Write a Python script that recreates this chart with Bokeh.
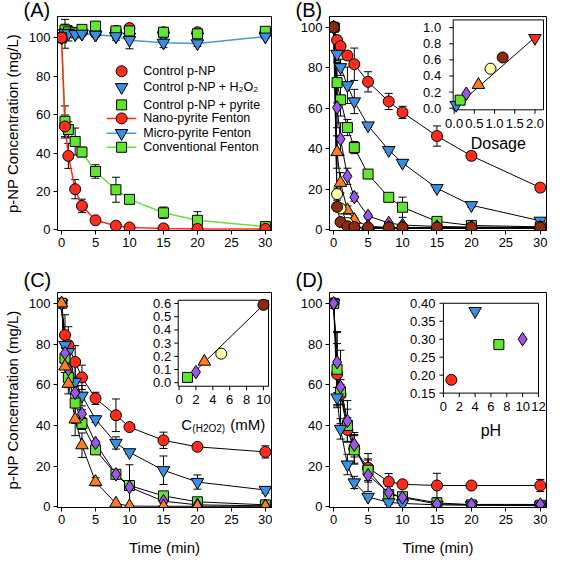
from bokeh.plotting import figure
from bokeh.layouts import column, row
from bokeh.models import (Range1d, ColumnDataSource, Whisker, TeeHead, FixedTicker)
from bokeh.embed import file_html
from bokeh.resources import INLINE
from bokeh.core.properties import value

# ---------------- data ----------------
time = [0, 0.5, 1, 2, 3, 5, 8, 10, 15, 20, 30]
x_ticks = [0, 5, 10, 15, 20, 25, 30]
y_ticks = [0, 20, 40, 60, 80, 100]

# Panel A
a_ctrl = [100, 103.7, 103.5, 102.5, 103, 102.5, 103.5, 105, 102.8, 102.8, 102.5]
a_ctrl_err = [0, 2, 2, 1, 1, 1, 1, 1, 1, 1, 1]
a_ctrl_h2o2 = [100, 102, 102.3, 101.8, 102, 101.5, 100.7, 100.5, 101, 100.5, 101]
a_ctrl_h2o2_err = [0, 7.5, 4, 1, 1, 1, 2, 1, 1, 1, 1]
a_ctrl_pyr = [100, 104, 103, 102.5, 104.3, 106, 103.5, 103.5, 102.8, 102, 103.3]
a_ctrl_pyr_err = [0, 3, 2, 1, 1, 1, 1, 1, 1, 1, 1]
a_nano = [100, 53.8, 38.5, 21.2, 12.5, 5, 2.2, 1.3, 0.8, 0.5, 0.5]
a_nano_err = [0, 6, 6.5, 5, 3.5, 1, 0.5, 0.5, 0.3, 0.3, 0.3]
a_micro = [100, 102.5, 102.3, 101.8, 102, 101.5, 100.7, 98.7, 97.3, 97, 100.5]
a_micro_err = [0, 1, 1, 1, 1, 1, 1, 4.5, 2.5, 1.5, 1]
a_conv = [100, 56.5, 52.2, 46, 40.5, 30.4, 20.9, 15.9, 8.9, 5, 1.7]
a_conv_err = [0, 8, 4, 7, 2.5, 3.5, 6.5, 2, 3, 4.5, 2]
a_labels = ["Control p-NP", "Control p-NP + H\u2082O\u2082", "Control p-NP + pyrite",
            "Nano-pyrite Fenton", "Micro-pyrite Fenton", "Conventional Fenton"]

# Panel B (dosage series)
b_s1 = [100, 93.6, 90.6, 86, 81.7, 73, 63.3, 57.9, 46.2, 36.4, 20.7]
b_s1_err = [0, 2, 2, 2, 8, 5, 4, 3, 5, 2, 2]
b_s2 = [100, 86.8, 80.2, 71.3, 63.3, 51.4, 39.2, 32.9, 20.4, 12, 4.3]
b_s2_err = [0, 3, 4, 9, 6, 1, 1, 1, 1, 1, 1]
b_s3 = [100, 72.6, 64.1, 50.4, 40.5, 27.4, 15.9, 11, 4, 2, 1.3]
b_s3_err = [0, 10, 8, 4, 3, 1, 1, 5, 1, 0.5, 0.5]
b_s4 = [100, 60.3, 44.7, 26.3, 16, 6.7, 3.2, 2.2, 1.5, 1.2, 1]
b_s4_err = [0, 10, 8, 4, 2, 1, 0.5, 0.5, 0.5, 0.5, 0.5]
b_s5 = [100, 38.3, 23.1, 9.6, 4.8, 1.6, 1, 0.8, 0.8, 0.8, 0.8]
b_s5_err = [0, 8, 5, 2, 1, 0.5, 0.5, 0.5, 0.5, 0.5, 0.5]
b_s6 = [100, 17.5, 10.4, 3.2, 0.8, 0.5, 0.5, 0.5, 0.5, 0.5, 0.5]
b_s6_err = [0, 3, 2, 1, 0.5, 0.3, 0.3, 0.3, 0.3, 0.3, 0.3]
b_s7 = [100, 11.2, 3.7, 1.6, 1.2, 1, 1, 1, 1, 1, 1]
b_s7_err = [0, 2, 1, 0.5, 0.3, 0.3, 0.3, 0.3, 0.3, 0.3, 0.3]
b_dosage = [0.05, 0.15, 0.3, 0.6, 0.9, 1.2, 2.0]
b_k = [0.04, 0.10, 0.18, 0.29, 0.49, 0.63, 0.87]
b_fit_x = [0.0, 2.0]
b_fit_y = [0.0, 0.88]
b_in_xticks = [0, 0.5, 1.0, 1.5, 2.0]
b_in_xlabels = ["0.0", "0.5", "1.0", "1.5", "2.0"]
b_in_yticks = [0, 0.2, 0.4, 0.6, 0.8, 1.0]
b_in_ylabels = ["0.0", "0.2", "0.4", "0.6", "0.8", "1.0"]

# Panel C (H2O2 series)
c_s1 = [100, 84.4, 79.5, 71.2, 63.6, 53.3, 45, 39.2, 32.7, 29.5, 27]
c_s1_err = [0, 10, 9, 8, 6, 3, 8, 1, 4, 1, 3]
c_s2 = [100, 79.5, 76, 61.4, 54.6, 43, 31.4, 26.8, 18, 12.2, 8.3]
c_s2_err = [0, 5, 5, 10, 5, 1.5, 3, 1, 7, 3.5, 1.5]
c_s3 = [100, 73, 63.6, 51, 41, 28, 16, 10.5, 5.4, 2.5, 1]
c_s3_err = [0, 5, 5, 10, 3, 1.5, 1, 1, 1, 0.5, 0.5]
c_s4 = [100, 75.5, 67.6, 56, 45.7, 31.4, 16, 9.7, 2.8, 1, 0.5]
c_s4_err = [0, 3, 3, 3, 2, 1, 1, 11, 1, 0.5, 0.3]
c_s5 = [100, 69, 60.5, 43, 30.3, 12.3, 1.7, 0.4, 0.3, 0.3, 0.3]
c_s5_err = [0, 3, 5, 8, 6, 2, 0.5, 0.3, 0.3, 0.3, 0.3]
c_conc = [1, 2, 3, 5, 10]
c_k = [0.04, 0.08, 0.16, 0.22, 0.59]
c_fit_x = [1.0, 10.0]
c_fit_y = [0.03, 0.59]
c_in_xticks = [0, 2, 4, 6, 8, 10]
c_in_xlabels = ["0", "2", "4", "6", "8", "10"]
c_in_yticks = [0, 0.1, 0.2, 0.3, 0.4, 0.5, 0.6]
c_in_ylabels = ["0.0", "0.1", "0.2", "0.3", "0.4", "0.5", "0.6"]

# Panel D (pH series)
d_s1 = [100, 65.2, 55.2, 37.8, 28.5, 19.2, 12.4, 11.1, 10.5, 10.5, 10.5]
d_s1_err = [0, 15, 5, 6, 7, 7, 4, 1, 6, 1, 3]
d_s2 = [100, 53.7, 38.3, 20.8, 12, 4.9, 2.2, 1.7, 1, 0.8, 0.6]
d_s2_err = [0, 5, 5, 5, 3, 1, 1, 1, 0.5, 0.5, 0.5]
d_s3 = [100, 67.6, 56.5, 40, 28, 18, 6, 5, 2, 1, 0.8]
d_s3_err = [0, 18, 6, 8, 7, 5, 2, 2, 2, 2, 1]
d_s4 = [100, 71.1, 58.9, 42.2, 30.5, 15.6, 7, 4.6, 1.4, 1.2, 1.2]
d_s4_err = [0, 15, 18, 10, 6, 8, 3, 2, 1, 1, 1]
d_ph = [1, 4, 7, 10]
d_k = [0.187, 0.378, 0.285, 0.30]
d_in_xticks = [0, 2, 4, 6, 8, 10, 12]
d_in_xlabels = ["0", "2", "4", "6", "8", "10", "12"]
d_in_yticks = [0.15, 0.20, 0.25, 0.30, 0.35, 0.40]
d_in_ylabels = ["0.15", "0.20", "0.25", "0.30", "0.35", "0.40"]

# ---------------- styles ----------------
FONT = "Liberation Sans"
RED = "#ff2b1c"
BLUE = "#3b8fe3"
GREEN = "#62e52e"
PURPLE = "#9b55e8"
ORANGE = "#ff7a22"
YELLOW = "#ffffa8"
BROWN = "#8c2a0c"
LINE_BLUE = "#4796e0"
LINE_GREEN = "#6ade35"
SIZES = {"circle": 11, "inverted_triangle": 12.5, "triangle": 12.5, "square": 10, "diamond": 13.5}


def make_panel(width, height, bl, br, bt, bb, y_start, y_end, letter, title_standoff,
               xlabel=None, ylabel=None):
    p = figure(width=width, height=height, output_backend="svg", toolbar_location=None,
               x_range=Range1d(-0.6, 30.9), y_range=Range1d(y_start, y_end),
               min_border_left=bl, min_border_right=br, min_border_top=bt, min_border_bottom=bb)
    p.title.text = letter
    p.title.align = "left"
    p.title.offset = -34
    p.title.standoff = title_standoff
    p.title.text_font = FONT
    p.title.text_font_size = "20px"
    p.title.text_font_style = "normal"
    p.title.text_color = "black"
    p.grid.visible = False
    p.outline_line_color = "black"
    p.outline_line_alpha = 1
    p.outline_line_width = 1
    p.background_fill_color = "white"
    p.border_fill_color = "white"
    p.xaxis.ticker = FixedTicker(ticks=x_ticks)
    p.yaxis.ticker = FixedTicker(ticks=y_ticks)
    for ax in [p.xaxis[0], p.yaxis[0]]:
        ax.major_tick_in = 0
        ax.major_tick_out = 4
        ax.minor_tick_line_color = None
        ax.axis_line_color = "black"
        ax.major_tick_line_color = "black"
        ax.major_label_text_font = FONT
        ax.major_label_text_font_size = "13px"
        ax.major_label_text_color = "black"
        ax.major_label_standoff = 3
        ax.axis_label_text_font = FONT
        ax.axis_label_text_font_size = "15px"
        ax.axis_label_text_font_style = "normal"
        ax.axis_label_text_color = "black"
    if xlabel:
        p.xaxis.axis_label = xlabel
        p.xaxis.axis_label_standoff = 12
    if ylabel:
        p.yaxis.axis_label = ylabel
        p.yaxis.axis_label_standoff = 5
    return p


def add_series(p, series):
    """series: list of (values, errors, marker, fill, line_color, line_width)"""
    srcs = []
    for vals, errs, marker, fill, lc, lw in series:
        src = ColumnDataSource(dict(x=time, y=vals,
                                    lo=[v - e for v, e in zip(vals, errs)],
                                    hi=[v + e for v, e in zip(vals, errs)]))
        srcs.append(src)
    for src, (vals, errs, marker, fill, lc, lw) in zip(srcs, series):
        if lc is not None:
            p.line("x", "y", source=src, line_color=lc, line_width=lw)
        p.add_layout(Whisker(base="x", upper="hi", lower="lo", source=src,
                             line_color="black", line_width=1,
                             upper_head=TeeHead(size=8, line_color="black", line_width=1),
                             lower_head=TeeHead(size=8, line_color="black", line_width=1)))
    for src, (vals, errs, marker, fill, lc, lw) in zip(srcs, series):
        p.scatter("x", "y", source=src, marker=marker, size=SIZES[marker],
                  fill_color=fill, line_color="black", line_width=1)


def add_inset(p, name, fw, fh, frac, box, xs, ys, markers, fills, xt, xtl, yt, ytl,
              fit=None, ylab_off=8):
    fx0, fx1, fy0, fy1 = frac
    bx0, bx1, by0, by1 = box
    spx = (bx1 - bx0) / (fx1 - fx0)
    spy = (by1 - by0) / (fy1 - fy0)
    xs0 = bx0 - fx0 * spx
    ys0 = by0 - fy0 * spy
    p.extra_x_ranges[name] = Range1d(xs0, xs0 + spx)
    p.extra_y_ranges[name] = Range1d(ys0, ys0 + spy)
    kw = dict(x_range_name=name, y_range_name=name)
    tx = 4 * spx / fw
    ty = 4 * spy / fh
    p.quad(left=[bx0], right=[bx1], bottom=[by0], top=[by1], fill_color="white",
           line_color="black", line_width=1, **kw)
    p.segment(x0=xt, y0=[by0] * len(xt), x1=xt, y1=[by0 - ty] * len(xt),
              line_color="black", line_width=1, **kw)
    p.segment(x0=[bx0] * len(yt), y0=yt, x1=[bx0 - tx] * len(yt), y1=yt,
              line_color="black", line_width=1, **kw)
    p.text(x=xt, y=[by0] * len(xt), text=xtl, text_font=value(FONT), text_font_size="13px",
           text_align="center", text_baseline="top", y_offset=9, text_color="black", **kw)
    p.text(x=[bx0] * len(yt), y=yt, text=ytl, text_font=value(FONT), text_font_size="13px",
           text_align="right", text_baseline="middle", x_offset=-ylab_off, text_color="black", **kw)
    if fit is not None:
        p.line(fit[0], fit[1], line_color="black", line_width=1, **kw)
    src = ColumnDataSource(dict(x=xs, y=ys, m=markers, c=fills,
                                s=[SIZES[m] for m in markers]))
    p.scatter("x", "y", source=src, marker="m", size="s", fill_color="c",
              line_color="black", line_width=1, **kw)
    return (bx0 + bx1) / 2, by0, kw


# ---------------- Panel A ----------------
A_W, A_H, A_BL, A_BR, A_BT, A_BB = 272, 258, 54, 1, 15, 28
pa = make_panel(A_W, A_H, A_BL, A_BR, A_BT, A_BB, -0.3, 111, "(A)", -8,
                ylabel="p-NP Concentration (mg/L)")
add_series(pa, [
    (a_ctrl, a_ctrl_err, "circle", RED, None, 1),
    (a_ctrl_h2o2, a_ctrl_h2o2_err, "inverted_triangle", BLUE, None, 1),
    (a_ctrl_pyr, a_ctrl_pyr_err, "square", GREEN, None, 1),
    (a_micro, a_micro_err, "inverted_triangle", BLUE, LINE_BLUE, 1.5),
    (a_conv, a_conv_err, "square", GREEN, LINE_GREEN, 1.5),
    (a_nano, a_nano_err, "circle", RED, RED, 1.5),
])

# legend drawn in frame pixel space (y measured down from the frame top)
fw_a = A_W - A_BL - A_BR
fh_a = A_H - A_BT - A_BB
pa.extra_x_ranges["lg"] = Range1d(0, fw_a)
pa.extra_y_ranges["lg"] = Range1d(fh_a, 0)
lg = dict(x_range_name="lg", y_range_name="lg")
leg_rows = [55, 71, 88.8, 102.4, 117.2, 131.4]
leg_markers = ["circle", "inverted_triangle", "square", "circle", "inverted_triangle", "square"]
leg_fills = [RED, BLUE, GREEN, RED, BLUE, GREEN]
leg_lines = [None, None, None, RED, LINE_BLUE, LINE_GREEN]
LEG_MX, LEG_X0, LEG_X1, LEG_TX = 65, 50, 80, 87
for yy, lc in zip(leg_rows, leg_lines):
    if lc is not None:
        pa.segment(x0=[LEG_X0], y0=[yy], x1=[LEG_X1], y1=[yy], line_color=lc, line_width=1.5, **lg)
leg_src = ColumnDataSource(dict(x=[LEG_MX] * len(leg_rows), y=leg_rows, m=leg_markers,
                                c=leg_fills, s=[SIZES[m] for m in leg_markers]))
pa.scatter("x", "y", source=leg_src, marker="m", size="s", fill_color="c",
           line_color="black", line_width=1, **lg)
pa.text(x=[LEG_TX] * len(leg_rows), y=leg_rows, text=a_labels, text_font=value(FONT),
        text_font_size="12.5px", text_align="left", text_baseline="middle",
        text_color="black", **lg)

# ---------------- Panel B ----------------
pb = make_panel(276, 258, 57, 2, 15, 28, -0.5, 105.3, "(B)", -8)
add_series(pb, [
    (b_s1, b_s1_err, "circle", RED, "black", 1),
    (b_s2, b_s2_err, "inverted_triangle", BLUE, "black", 1),
    (b_s3, b_s3_err, "square", GREEN, "black", 1),
    (b_s4, b_s4_err, "diamond", PURPLE, "black", 1),
    (b_s5, b_s5_err, "triangle", ORANGE, "black", 1),
    (b_s6, b_s6_err, "circle", YELLOW, "black", 1),
    (b_s7, b_s7_err, "circle", BROWN, "black", 1),
])
cx, cy, kw = add_inset(pb, "inB", 217, 215, (0.570, 0.986, 0.564, 0.984), (-0.024, 2.21, -0.02, 1.096),
                       b_dosage, b_k,
                       ["inverted_triangle", "square", "diamond", "triangle", "circle", "circle", "inverted_triangle"],
                       [BLUE, GREEN, PURPLE, ORANGE, YELLOW, BROWN, RED],
                       b_in_xticks, b_in_xlabels, b_in_yticks, b_in_ylabels,
                       fit=(b_fit_x, b_fit_y), ylab_off=12)
pb.text(x=[cx], y=[cy], text=["Dosage"], text_font=value(FONT), text_font_size="16px",
        text_align="center", text_baseline="alphabetic", y_offset=34, text_color="black", **kw)

# ---------------- Panel C ----------------
pc = make_panel(272, 303, 54, 1, 34, 54, -0.3, 105.3, "(C)", 4,
                xlabel="Time (min)", ylabel="p-NP Concentration (mg/L)")
add_series(pc, [
    (c_s1, c_s1_err, "circle", RED, "black", 1),
    (c_s2, c_s2_err, "inverted_triangle", BLUE, "black", 1),
    (c_s3, c_s3_err, "square", GREEN, "black", 1),
    (c_s4, c_s4_err, "diamond", PURPLE, "black", 1),
    (c_s5, c_s5_err, "triangle", ORANGE, "black", 1),
])
cx, cy, kw = add_inset(pc, "inC", 217, 215, (0.564, 0.986, 0.564, 0.964), (-0.1, 10.6, -0.027, 0.625),
                       c_conc, c_k,
                       ["square", "diamond", "triangle", "circle", "circle"],
                       [GREEN, PURPLE, ORANGE, YELLOW, BROWN],
                       c_in_xticks, c_in_xlabels, c_in_yticks, c_in_ylabels,
                       fit=(c_fit_x, c_fit_y), ylab_off=7)
pc.text(x=[cx], y=[cy], text=["C"], text_font=value(FONT), text_font_size="15px",
        text_align="left", text_baseline="alphabetic", x_offset=-42, y_offset=38, text_color="black", **kw)
pc.text(x=[cx], y=[cy], text=["(H2O2)"], text_font=value(FONT), text_font_size="10px",
        text_align="left", text_baseline="alphabetic", x_offset=-31, y_offset=42, text_color="black", **kw)
pc.text(x=[cx], y=[cy], text=["(mM)"], text_font=value(FONT), text_font_size="15px",
        text_align="left", text_baseline="alphabetic", x_offset=7, y_offset=38, text_color="black", **kw)

# ---------------- Panel D ----------------
pd_ = make_panel(276, 303, 57, 2, 34, 54, -0.3, 105.3, "(D)", 4, xlabel="Time (min)")
add_series(pd_, [
    (d_s1, d_s1_err, "circle", RED, "black", 1),
    (d_s3, d_s3_err, "square", GREEN, "black", 1),
    (d_s2, d_s2_err, "inverted_triangle", BLUE, "black", 1),
    (d_s4, d_s4_err, "diamond", PURPLE, "black", 1),
])
cx, cy, kw = add_inset(pd_, "inD", 217, 215, (0.525, 0.963, 0.532, 0.95), (0, 12, 0.15, 0.40),
                       d_ph, d_k,
                       ["circle", "inverted_triangle", "square", "diamond"],
                       [RED, BLUE, GREEN, PURPLE],
                       d_in_xticks, d_in_xlabels, d_in_yticks, d_in_ylabels, ylab_off=8)
pd_.text(x=[cx], y=[cy], text=["pH"], text_font=value(FONT), text_font_size="16px",
         text_align="center", text_baseline="alphabetic", y_offset=37, text_color="black", **kw)

layout = column(row(pa, pb), row(pc, pd_))
open("out.html", "w").write(file_html(layout, INLINE))
